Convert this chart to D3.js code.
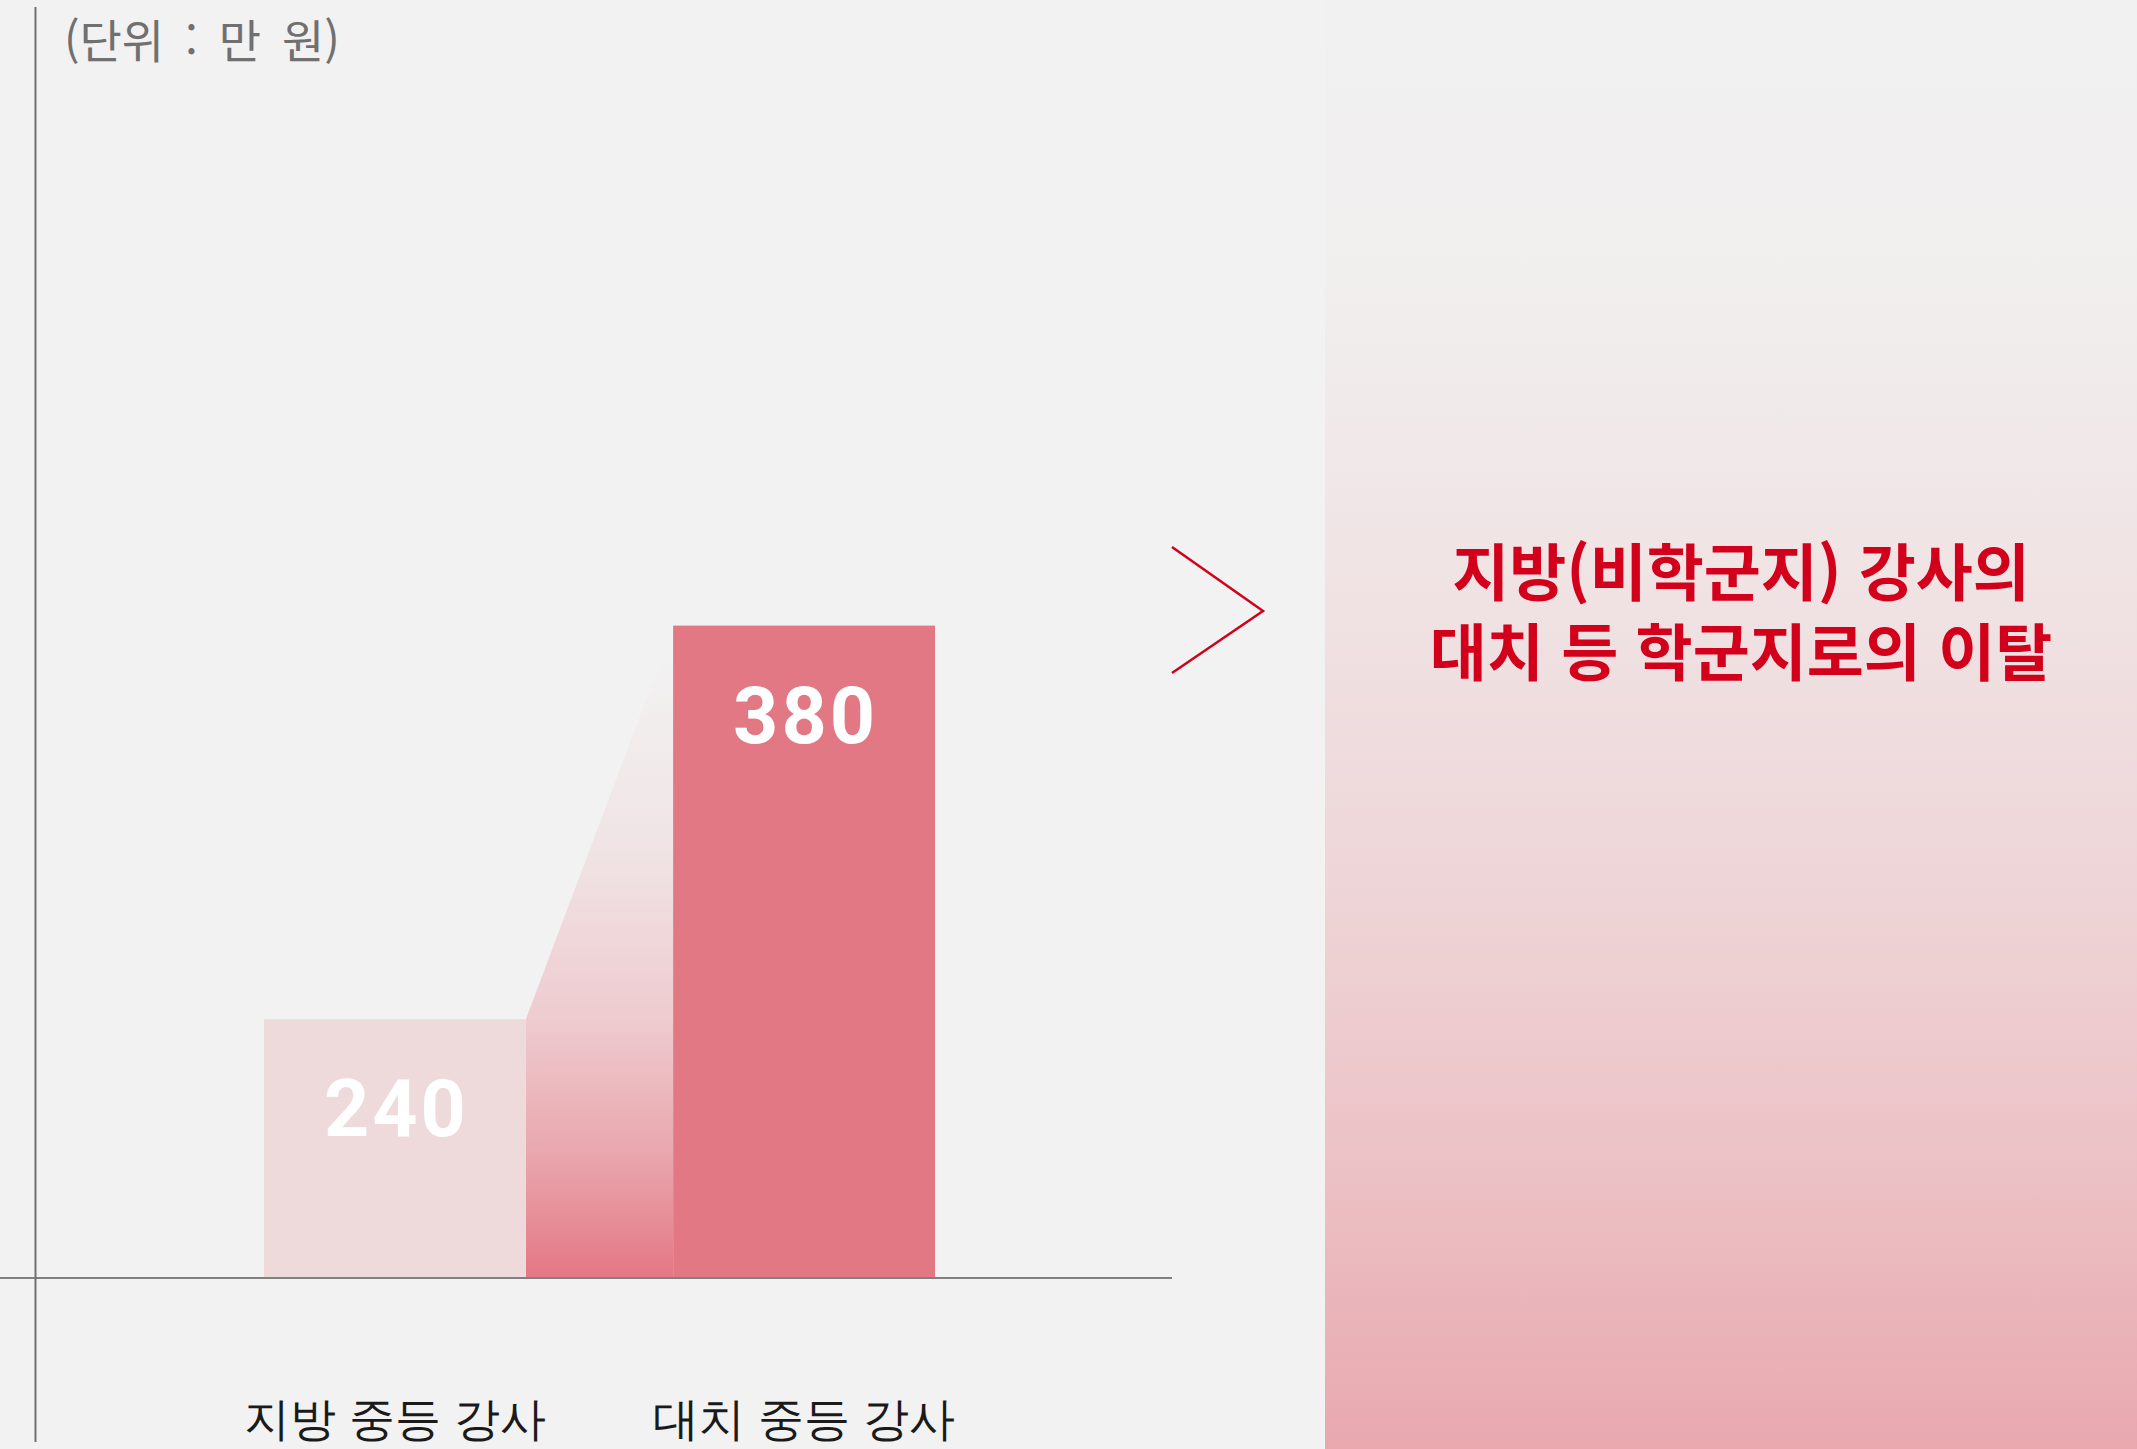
<!DOCTYPE html>
<html lang="ko">
<head>
    <meta charset="UTF-8">
    <title>지방 강사 vs 대치 강사</title>
    <script src="https://d3js.org/d3.v7.min.js"></script>
    <style>
        body {
            margin: 0;
            background-color: #f2f2f2;
            font-family: "Noto Sans CJK KR", "Noto Sans", sans-serif;
        }
        svg { display: block; }
        .cat text {
            font-size: 46px;
            font-weight: 300;
            fill: #1a1a1a;
        }
    </style>
</head>
<body>
<svg width="2137" height="1449"></svg>

<script>
    // data
    let categories = ["지방 중등 강사", "대치 중등 강사"];
    let values = [240, 380];
    let barColors = ["#eedadb", "#e27884"];
    let bridgeTopValue = 366;     // where the fading bridge levels off
    let axisBaseValue = 148;      // the chart is cut off below this
    let unitLabel = "(단위 : 만 원)";
    let titleLines = ["지방(비학군지) 강사의", "대치 등 학군지로의 이탈"];

    let W = 2137, H = 1449;
    let baseY = 1278;

    let svg = d3.select("svg");
    let defs = svg.append("defs");

    // background
    svg.append("rect").attr("width", W).attr("height", H).attr("fill", "#f2f2f2");

    let xScale = d3.scaleBand()
        .domain(categories)
        .range([264, 935])
        .paddingInner(0.36)
        .paddingOuter(0);

    let yScale = d3.scaleLinear()
        .domain([axisBaseValue, d3.max(values)])
        .range([baseY, 625.6]);

    // right panel gradient
    let panelGrad = defs.append("linearGradient")
        .attr("id", "panelGrad")
        .attr("x1", "0%").attr("y1", "0%")
        .attr("x2", "0%").attr("y2", "100%");
    [[0, "#f1f1f1"], [0.2, "#f1eeee"], [0.4, "#f0e3e4"], [0.6, "#eed6d8"], [0.8, "#ecc2c6"], [1, "#e8a8ae"]]
        .forEach(s => panelGrad.append("stop").attr("offset", s[0]).attr("stop-color", s[1]));

    svg.append("rect")
        .attr("x", 1325).attr("y", 0)
        .attr("width", W - 1325).attr("height", H)
        .attr("fill", "url(#panelGrad)");

    // bridge gradient between the two bars
    let yTop = yScale(bridgeTopValue);
    let bridgeGrad = defs.append("linearGradient")
        .attr("id", "bridgeGrad")
        .attr("gradientUnits", "userSpaceOnUse")
        .attr("x1", 0).attr("y1", yTop)
        .attr("x2", 0).attr("y2", baseY);
    [[0, "#f2f1f1"], [0.3, "#f0e4e5"], [0.58, "#eecbcf"], [0.8, "#e9a6ad"], [1, "#e47784"]]
        .forEach(s => bridgeGrad.append("stop").attr("offset", s[0]).attr("stop-color", s[1]));

    let x1r = xScale(categories[0]) + xScale.bandwidth();
    let x2l = xScale(categories[1]);
    let bridge = [
        [x1r, baseY],
        [x1r, yScale(values[0])],
        [x2l - 14, yTop],
        [x2l, yTop],
        [x2l, baseY]
    ];
    svg.append("path")
        .attr("d", d3.line()(bridge) + "Z")
        .attr("fill", "url(#bridgeGrad)");

    // bars
    svg.selectAll("rect.bar")
        .data(values)
        .enter().append("rect")
        .attr("class", "bar")
        .attr("x", (d, i) => xScale(categories[i]))
        .attr("y", d => yScale(d))
        .attr("width", xScale.bandwidth())
        .attr("height", d => baseY - yScale(d))
        .attr("fill", (d, i) => barColors[i]);

    // value labels
    svg.selectAll("text.val")
        .data(values)
        .enter().append("text")
        .attr("class", "val")
        .attr("x", (d, i) => xScale(categories[i]) + xScale.bandwidth() / 2 + 1.5)
        .attr("y", d => yScale(d) + 117)
        .attr("text-anchor", "middle")
        .attr("fill", "#ffffff")
        .attr("font-family", "Roboto, 'Liberation Sans', sans-serif")
        .attr("font-weight", 700)
        .attr("font-size", "79px")
        .attr("letter-spacing", "3px")
        .text(d => d);

    // axes
    svg.append("line")
        .attr("x1", 0).attr("x2", 1172)
        .attr("y1", baseY).attr("y2", baseY)
        .attr("stroke", "#808080").attr("stroke-width", 2);

    svg.append("line")
        .attr("x1", 35.5).attr("x2", 35.5)
        .attr("y1", 7).attr("y2", 1442)
        .attr("stroke", "#707070").attr("stroke-width", 2);

    svg.append("g")
        .attr("class", "cat")
        .attr("transform", `translate(0,${baseY})`)
        .call(d3.axisBottom(xScale).tickSize(0).tickPadding(124))
        .call(g => g.select(".domain").remove())
        .selectAll("text")
        .attr("font-family", null)
        .attr("font-size", null);

    svg.append("text")
        .attr("x", 64).attr("y", 58)
        .attr("fill", "#707070")
        .attr("font-size", "46px")
        .attr("word-spacing", "8px")
        .text(unitLabel);

    // chevron
    svg.append("path")
        .attr("d", "M1172,547 L1263,611 L1172,673")
        .attr("fill", "none")
        .attr("stroke", "#d0021b")
        .attr("stroke-width", 2.5);

    // title (two lines in one text block)
    let title = svg.append("text")
        .attr("x", 1741)
        .attr("y", 596)
        .attr("text-anchor", "middle")
        .attr("fill", "#d3001c")
        .attr("font-weight", 700)
        .attr("font-size", "62px");

    title.selectAll("tspan")
        .data(titleLines)
        .enter().append("tspan")
        .attr("x", 1741)
        .attr("dy", (d, i) => i === 0 ? 0 : 80)
        .text(d => d);
</script>
</body>
</html>
